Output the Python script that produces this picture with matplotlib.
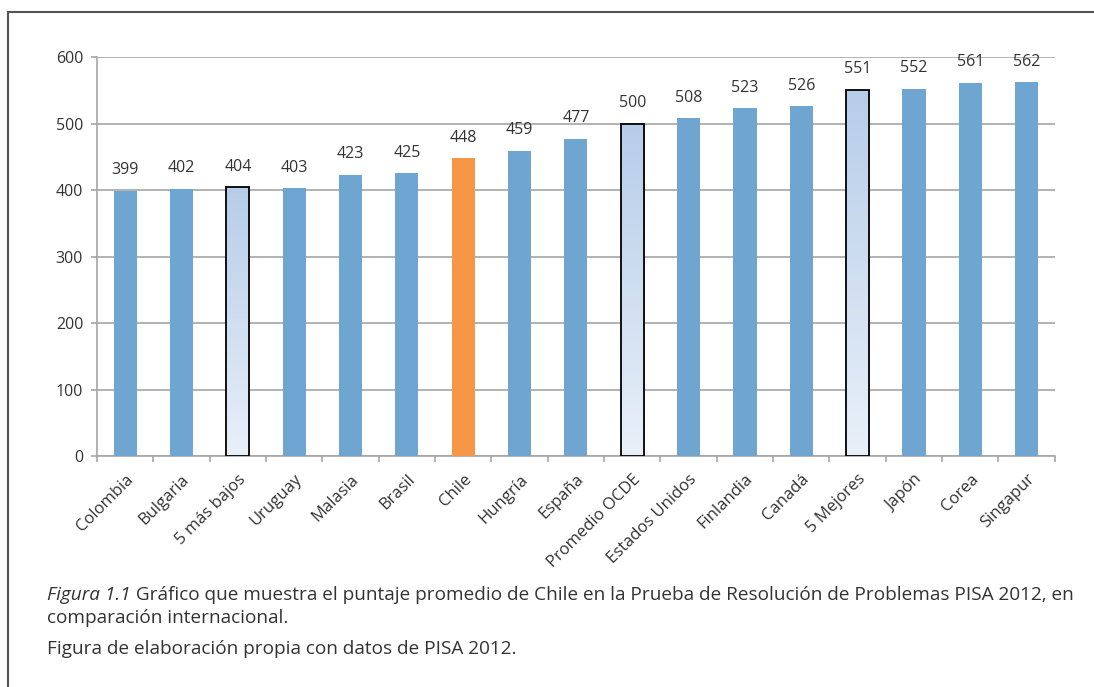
import matplotlib
matplotlib.use('Agg')
import matplotlib.pyplot as plt
import numpy as np
from matplotlib.patches import Rectangle

# data
categories = ['Colombia', 'Bulgaria', '5 más bajos', 'Uruguay', 'Malasia', 'Brasil',
              'Chile', 'Hungría', 'España', 'Promedio OCDE', 'Estados Unidos',
              'Finlandia', 'Canadá', '5 Mejores', 'Japón', 'Corea', 'Singapur']
scores = [399, 402, 404, 403, 423, 425, 448, 459, 477, 500, 508, 523, 526, 551, 552, 561, 562]
highlight = ['Chile']
groups = ['5 más bajos', 'Promedio OCDE', '5 Mejores']
yticks = [0, 100, 200, 300, 400, 500, 600]

caption_italic = 'Figura 1.1'
caption_rest = (' Gráfico que muestra el puntaje promedio de Chile en la Prueba de '
                'Resolución de Problemas PISA 2012, en')
caption_line2 = 'comparación internacional.'
caption_line3 = 'Figura de elaboración propia con datos de PISA 2012.'

blue = '#6fa5d1'
orange = '#f79646'
grid_col = '#a6a6a6'
text_col = '#333333'

plt.rcParams['font.family'] = ['Open Sans', 'DejaVu Sans']

fig = plt.figure(figsize=(10.94, 6.87), dpi=100)
ax = fig.add_axes([0.0887, 0.3362, 0.8755, 0.5808])

x = np.arange(len(categories))
colors = []
for c in categories:
    if c in highlight:
        colors.append(orange)
    elif c in groups:
        colors.append('none')
    else:
        colors.append(blue)

bars = ax.bar(x, scores, width=0.41, color=colors, zorder=3)

# gradient fill + black edge for the group averages
grad = np.linspace(0, 1, 256).reshape(-1, 1)
cmap = matplotlib.colors.LinearSegmentedColormap.from_list('g', ['#e9f0f9', '#b6cde9'])
for b, c in zip(bars, categories):
    if c in groups:
        x0, w, h = b.get_x(), b.get_width(), b.get_height()
        im = ax.imshow(grad, cmap=cmap, aspect='auto', origin='lower',
                       extent=[x0, x0 + w, 0, h], zorder=3)
        im.set_clip_path(b)
        ax.add_patch(Rectangle((x0, 0), w, h, fill=False, edgecolor='black',
                               linewidth=1.3, zorder=4))

for xi, v in zip(x, scores):
    ax.annotate(str(v), (xi, v), xytext=(0, 9), textcoords='offset points',
                ha='center', va='bottom', fontsize=11.5, color=text_col)

ax.set_xlim(-0.5, len(categories) - 0.5)
ax.set_ylim(0, 600)
ax.set_yticks(yticks)
ax.set_yticklabels([str(t) for t in yticks], fontsize=11.5, color=text_col)
ax.yaxis.grid(True, color=grid_col, linewidth=1.2, zorder=0)
ax.set_axisbelow(True)

ax.set_xticks(x)
ax.set_xticklabels(categories, rotation=45, ha='right', rotation_mode='anchor',
                   fontsize=12, color=text_col)
ax.tick_params(axis='x', length=0, pad=11)
ax.set_xticks(np.arange(len(categories) + 1) - 0.5, minor=True)
ax.tick_params(axis='x', which='minor', length=4, color=grid_col, width=1.2)
ax.tick_params(axis='y', length=4, color=grid_col, width=1.2, pad=6)

for s in ['top', 'right']:
    ax.spines[s].set_visible(False)
ax.spines['left'].set_color(grid_col)
ax.spines['bottom'].set_color(grid_col)
ax.spines['left'].set_linewidth(1.2)
ax.spines['bottom'].set_linewidth(1.2)

# outer frame
fig.patches.append(Rectangle((8 / 1094, -0.05), 1.2, 1 - 12 / 687 + 0.05,
                             transform=fig.transFigure, fill=False,
                             edgecolor='#555555', linewidth=1.5))

# caption with italic prefix
cap_size = 13.7
t1 = fig.text(47 / 1094, 1 - 595 / 687, caption_italic, style='italic',
              fontsize=cap_size, color=text_col, va='center')
fig.canvas.draw()
bb = t1.get_window_extent(renderer=fig.canvas.get_renderer())
fig.text(bb.x1 / fig.bbox.width, 1 - 595 / 687, caption_rest,
         fontsize=cap_size, color=text_col, va='center')
fig.text(47 / 1094, 1 - 618 / 687, caption_line2, fontsize=cap_size,
         color=text_col, va='center')
fig.text(47 / 1094, 1 - 649 / 687, caption_line3, fontsize=cap_size,
         color=text_col, va='center')

plt.savefig('out.png', dpi=100)
